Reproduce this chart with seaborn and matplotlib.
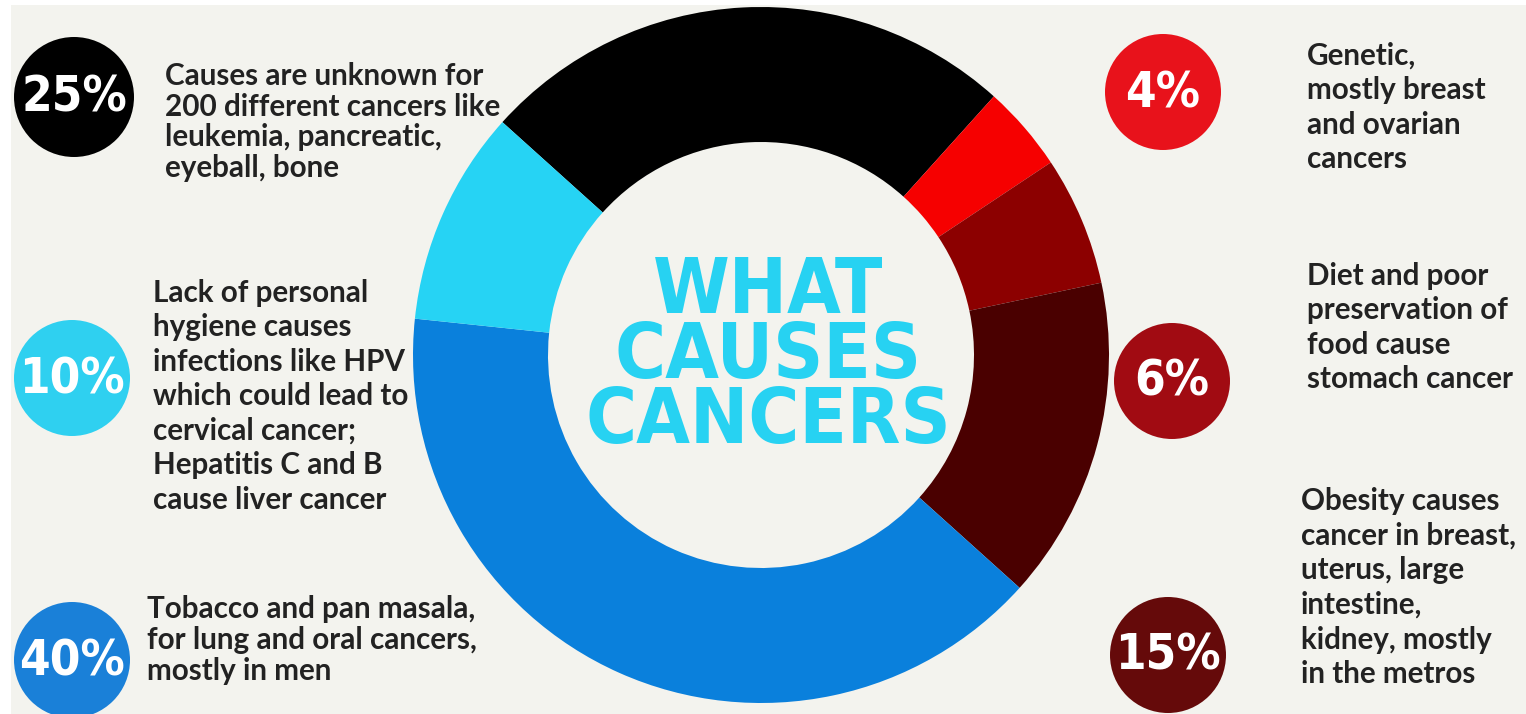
import matplotlib
matplotlib.use("Agg")
import matplotlib.pyplot as plt
from matplotlib import font_manager
from matplotlib.font_manager import FontProperties
from matplotlib.patches import Circle, Rectangle
import seaborn as sns

# ---- data ----
categories = ["Unknown", "Genetic", "Diet", "Obesity", "Tobacco", "Hygiene"]
values = [25, 4, 6, 15, 40, 10]
pct_labels = ["25%", "4%", "6%", "15%", "40%", "10%"]
descriptions = [
    "Causes are unknown for\n200 different cancers like\nleukemia, pancreatic,\neyeball, bone",
    "Genetic,\nmostly breast\nand ovarian\ncancers",
    "Diet and poor\npreservation of\nfood cause\nstomach cancer",
    "Obesity causes\ncancer in breast,\nuterus, large\nintestine,\nkidney, mostly\nin the metros",
    "Tobacco and pan masala,\nfor lung and oral cancers,\nmostly in men",
    "Lack of personal\nhygiene causes\ninfections like HPV\nwhich could lead to\ncervical cancer;\nHepatitis C and B\ncause liver cancer",
]
title_lines = "WHAT\nCAUSES\nCANCERS"

slice_colors = ["#000000", "#f60000", "#8c0000", "#4a0000", "#0a80dc", "#26d3f4"]
badge_colors = ["#000000", "#e8121b", "#a10b12", "#650a0a", "#1a80d8", "#2fd0f0"]

# ---- layout (pixel coords, y up) ----
W, H = 1526, 714
badge_pos = [(74, 617), (1163, 622), (1172, 333), (1168, 59), (72, 54), (72, 336)]
badge_r = [60, 58, 58, 58, 58, 58]
text_pos = [(165, 652), (1307, 672), (1307, 452), (1301, 227), (147, 119), (153, 435)]
text_lsp = [1.11, 1.28, 1.28, 1.29, 1.13, 1.28]

sns.set_theme(style="white")
avail = {f.name for f in font_manager.fontManager.ttflist}


def pick(names):
    for n in names:
        if n in avail:
            return n
    return "DejaVu Sans"


# condensed bold face for title / badges if present
cond_file = None
for f in font_manager.fontManager.ttflist:
    fn = f.fname.lower()
    if ("condensed" in fn or "narrow" in fn) and "bold" in fn and "oblique" not in fn and "italic" not in fn:
        cond_file = f.fname
        break
if cond_file:
    head_fp = FontProperties(fname=cond_file)
else:
    head_fp = FontProperties(family=[pick(["Roboto", "Liberation Sans"]), "DejaVu Sans"], weight="bold")

body_family = pick(["Lato", "Roboto", "Liberation Sans"])
plt.rcParams["font.family"] = [body_family, "DejaVu Sans"]

fig = plt.figure(figsize=(W / 100, H / 100), dpi=100, facecolor="white")
ax = fig.add_axes([0, 0, 1, 1])
bg = "#f3f3ee"

ax.pie(values, colors=slice_colors, startangle=138, counterclock=False,
       radius=348, center=(761, 359),
       wedgeprops=dict(width=135, linewidth=0, edgecolor="none"))
ax.set_xlim(0, W)
ax.set_ylim(0, H)
ax.set_aspect("equal")
ax.axis("off")
ax.add_patch(Rectangle((11, 0), W - 11, H - 5, facecolor=bg, edgecolor="none", zorder=-10))

renderer = fig.canvas.get_renderer()


def fit(t, target_w, max_h=None):
    fs = t.get_fontsize()
    bb = t.get_window_extent(renderer)
    scale = target_w / bb.width
    if max_h is not None:
        scale = min(scale, max_h / bb.height)
    t.set_fontsize(fs * scale)


title = ax.text(768, 357, title_lines, ha="center", va="center", color="#27d2f2",
                fontproperties=head_fp, fontsize=60, linespacing=0.84)
fit(title, 366, max_h=266)

badges = []
for (bx, by), r, col, lab in zip(badge_pos, badge_r, badge_colors, pct_labels):
    ax.add_patch(Circle((bx, by), r, facecolor=col, edgecolor="none", zorder=3))
    bt = ax.text(bx, by - 1, lab, ha="center", va="center", color="white",
                 fontproperties=head_fp, fontsize=40, zorder=4)
    badges.append(bt)
probe = ax.text(0, 0, "25%", fontproperties=head_fp, fontsize=40)
fit(probe, 106, max_h=60)
badge_fs = probe.get_fontsize()
probe.remove()
for bt in badges:
    bt.set_fontsize(badge_fs)

probe = ax.text(0, 0, "200 different cancers like", fontweight="bold", fontsize=20)
fit(probe, 336)
body_fs = probe.get_fontsize()
probe.remove()

for (tx, ty), desc, lsp in zip(text_pos, descriptions, text_lsp):
    ax.text(tx, ty, desc, ha="left", va="top", color="#222222", fontsize=body_fs,
            fontweight="bold", linespacing=lsp)

fig.savefig("out.png", dpi=100, facecolor="white")
